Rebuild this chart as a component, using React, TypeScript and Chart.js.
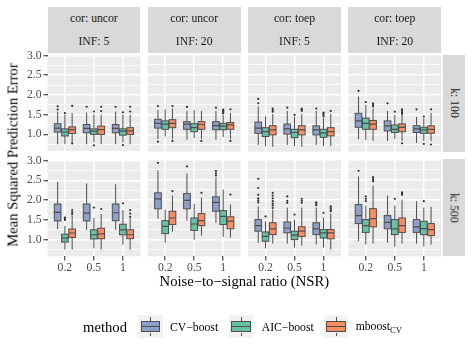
import React, { useEffect, useRef } from 'react';
import { Chart, registerables } from 'chart.js';

Chart.register(...registerables);

type Five = [number, number, number, number, number]; // lower whisker, q1, median, q3, upper whisker

// ---------- labels ----------
const NSR_LABELS = ['0.2', '0.5', '1'];
const NSR_POS = [1, 2, 3];
const METHOD_LABELS = ['CV−boost', 'AIC−boost', 'mboost'];
const METHOD_SUB = ['', '', 'CV'];
const METHOD_COLORS = ['#8DA0CB', '#66C2A5', '#FC8D62'];
const COR_LABELS = ['cor: uncor', 'cor: uncor', 'cor: toep', 'cor: toep'];
const INF_LABELS = ['INF: 5', 'INF: 20', 'INF: 5', 'INF: 20'];
const K_LABELS = ['k: 100', 'k: 500'];
const Y_TICKS = [0.75, 1, 1.25, 1.5, 1.75, 2, 2.25, 2.5, 2.75, 3];
const Y_MAJOR = [1, 1.5, 2, 2.5, 3];
const Y_RANGE = [0.5795, 3.0105];
const X_RANGE = [0.4, 3.6];

// ---------- data: k = 100 ----------
// uncor, INF 5
const u5k100_cv: Five[] = [[0.75, 1.06, 1.16, 1.27, 1.58], [0.75, 1.04, 1.15, 1.25, 1.55], [0.75, 1.04, 1.15, 1.25, 1.58]];
const u5k100_aic: Five[] = [[0.75, 0.96, 1.06, 1.14, 1.5], [0.8, 1.0, 1.08, 1.14, 1.5], [0.8, 0.98, 1.08, 1.14, 1.5]];
const u5k100_mb: Five[] = [[0.8, 1.02, 1.12, 1.19, 1.54], [0.75, 1.0, 1.12, 1.21, 1.5], [0.75, 1.0, 1.09, 1.17, 1.5]];
const u5k100_cv_out = [[1.63, 1.71], [1.7], [1.7]];
const u5k100_aic_out = [[1.54], [1.58, 0.72], [1.56, 0.73]];
const u5k100_mb_out = [[1.72, 0.77], [1.7, 1.59], [1.7, 1.58]];
// uncor, INF 20
const u20k100_cv: Five[] = [[0.9, 1.17, 1.29, 1.39, 1.62], [0.88, 1.14, 1.27, 1.33, 1.6], [0.88, 1.13, 1.23, 1.33, 1.6]];
const u20k100_aic: Five[] = [[0.96, 1.14, 1.27, 1.35, 1.64], [0.92, 1.08, 1.18, 1.28, 1.62], [0.95, 1.13, 1.22, 1.29, 1.5]];
const u20k100_mb: Five[] = [[0.9, 1.18, 1.29, 1.38, 1.66], [0.9, 1.14, 1.26, 1.33, 1.6], [0.9, 1.14, 1.25, 1.31, 1.55]];
const u20k100_cv_out = [[1.72, 0.83], [1.7], [1.68]];
const u20k100_aic_out = [[], [], [1.54, 1.57, 1.6, 1.63]];
const u20k100_mb_out = [[1.72, 0.85], [0.85], [1.64, 0.85]];
// toep, INF 5
const t5k100_cv: Five[] = [[0.75, 1.04, 1.17, 1.32, 1.71], [0.75, 1.02, 1.15, 1.27, 1.6], [0.75, 1.0, 1.125, 1.225, 1.6]];
const t5k100_aic: Five[] = [[0.71, 0.96, 1.08, 1.18, 1.46], [0.72, 0.93, 1.06, 1.14, 1.45], [0.72, 0.94, 1.05, 1.14, 1.42]];
const t5k100_mb: Five[] = [[0.7, 1.0, 1.125, 1.23, 1.52], [0.7, 1.0, 1.125, 1.23, 1.52], [0.72, 0.975, 1.08, 1.18, 1.52]];
const t5k100_cv_out = [[1.79, 1.9], [1.68], [1.66]];
const t5k100_aic_out = [[], [1.5], [1.46, 1.5, 1.53, 1.56]];
const t5k100_mb_out = [[1.58, 1.62, 1.66], [1.6, 1.63, 1.66], [1.6]];
// toep, INF 20
const t20k100_cv: Five[] = [[0.89, 1.19, 1.35, 1.54, 1.96], [0.85, 1.1, 1.225, 1.35, 1.6], [0.8, 1.06, 1.15, 1.23, 1.45]];
const t20k100_aic: Five[] = [[0.875, 1.14, 1.29, 1.42, 1.75], [0.9, 1.06, 1.14, 1.25, 1.5], [0.85, 1.04, 1.125, 1.19, 1.42]];
const t20k100_mb: Five[] = [[0.85, 1.14, 1.27, 1.36, 1.66], [0.85, 1.08, 1.19, 1.275, 1.5], [0.85, 1.04, 1.14, 1.225, 1.55]];
const t20k100_cv_out = [[2.1], [1.79], [1.64]];
const t20k100_aic_out = [[1.82], [1.58], [1.46, 0.775]];
const t20k100_mb_out = [[1.71, 1.75, 1.79], [1.52, 1.56, 1.6, 1.64, 0.79], [1.64, 0.76]];

// ---------- data: k = 500 ----------
const u5k500_cv: Five[] = [[1.27, 1.475, 1.69, 1.9, 2.46], [1.25, 1.475, 1.67, 1.9, 2.42], [1.25, 1.48, 1.68, 1.9, 2.4]];
const u5k500_aic: Five[] = [[0.75, 0.94, 1.04, 1.14, 1.35], [0.78, 1.02, 1.125, 1.25, 1.55], [0.875, 1.125, 1.25, 1.39, 1.75]];
const u5k500_mb: Five[] = [[0.75, 1.06, 1.17, 1.27, 1.6], [0.75, 1.025, 1.15, 1.29, 1.65], [0.75, 1.025, 1.125, 1.25, 1.55]];
const u5k500_cv_out = [[], [], []];
const u5k500_aic_out = [[1.5, 1.53, 1.56], [1.81], [1.92]];
const u5k500_mb_out = [[1.64, 1.69, 1.75], [1.775], [1.58, 1.66, 1.75]];

const u20k500_cv: Five[] = [[1.52, 1.77, 2.02, 2.17, 2.73], [1.475, 1.77, 1.98, 2.15, 2.65], [1.42, 1.71, 1.93, 2.07, 2.55]];
const u20k500_aic: Five[] = [[0.92, 1.15, 1.33, 1.475, 1.75], [1.0, 1.23, 1.39, 1.54, 1.89], [1.07, 1.375, 1.58, 1.725, 2.25]];
const u20k500_mb: Five[] = [[1.2, 1.375, 1.54, 1.71, 2.1], [1.1, 1.35, 1.475, 1.65, 2.05], [1.05, 1.27, 1.46, 1.57, 1.88]];
const u20k500_cv_out = [[2.92], [2.83], [2.6, 2.65, 2.71]];
const u20k500_aic_out = [[], [], []];
const u20k500_mb_out = [[2.21], [2.17], [2.125]];

const t5k500_cv: Five[] = [[0.92, 1.21, 1.35, 1.5, 1.83], [0.9, 1.17, 1.29, 1.44, 1.8], [0.88, 1.125, 1.27, 1.42, 1.8]];
const t5k500_aic: Five[] = [[0.78, 0.96, 1.08, 1.19, 1.45], [0.8, 1.0, 1.11, 1.21, 1.5], [0.8, 1.04, 1.17, 1.25, 1.55]];
const t5k500_mb: Five[] = [[0.9, 1.125, 1.27, 1.42, 1.75], [0.85, 1.08, 1.21, 1.32, 1.8], [0.75, 1.02, 1.17, 1.25, 1.65]];
const t5k500_cv_out = [[1.93, 1.98, 2.03, 2.12, 2.29, 2.52], [1.92, 1.97, 2.08], [1.86, 1.9, 1.93]];
const t5k500_aic_out = [[1.58], [1.625], [1.67]];
const t5k500_mb_out = [[1.79, 1.85, 1.9, 1.96, 2.03, 2.1, 2.17], [1.92, 1.97, 2.02], [1.71, 1.75, 1.79, 1.83]];

const t20k500_cv: Five[] = [[0.96, 1.4, 1.6, 1.875, 2.58], [0.92, 1.27, 1.43, 1.6, 2.1], [0.9, 1.18, 1.32, 1.5, 1.96]];
const t20k500_aic: Five[] = [[0.875, 1.18, 1.35, 1.5, 1.85], [0.82, 1.125, 1.27, 1.5, 1.85], [0.83, 1.125, 1.275, 1.46, 1.8]];
const t20k500_mb: Five[] = [[0.9, 1.32, 1.525, 1.775, 2.35], [0.9, 1.18, 1.35, 1.54, 2.0], [0.875, 1.1, 1.25, 1.4, 1.82]];
const t20k500_cv_out = [[2.72], [], []];
const t20k500_aic_out = [[1.96, 2.02, 2.08], [2.02], [1.96]];
const t20k500_mb_out = [[2.46, 2.51, 2.56], [2.12, 2.15, 2.18], []];

// panel lookup [row][col] -> per method
const BOXES: Five[][][][] = [
  [[u5k100_cv, u5k100_aic, u5k100_mb], [u20k100_cv, u20k100_aic, u20k100_mb], [t5k100_cv, t5k100_aic, t5k100_mb], [t20k100_cv, t20k100_aic, t20k100_mb]],
  [[u5k500_cv, u5k500_aic, u5k500_mb], [u20k500_cv, u20k500_aic, u20k500_mb], [t5k500_cv, t5k500_aic, t5k500_mb], [t20k500_cv, t20k500_aic, t20k500_mb]],
];
const OUTLIERS: number[][][][][] = [
  [[u5k100_cv_out, u5k100_aic_out, u5k100_mb_out], [u20k100_cv_out, u20k100_aic_out, u20k100_mb_out], [t5k100_cv_out, t5k100_aic_out, t5k100_mb_out], [t20k100_cv_out, t20k100_aic_out, t20k100_mb_out]],
  [[u5k500_cv_out, u5k500_aic_out, u5k500_mb_out], [u20k500_cv_out, u20k500_aic_out, u20k500_mb_out], [t5k500_cv_out, t5k500_aic_out, t5k500_mb_out], [t20k500_cv_out, t20k500_aic_out, t20k500_mb_out]],
] as any;

// ---------- layout ----------
const PANEL_L = [47.5, 147.8, 248.1, 348.4];
const PANEL_W = 92.8;
const PANEL_T = [54.5, 159.2];
const PANEL_H = 97.2;
const DODGE = [-0.25, 0, 0.25];
const HALF_BOX = 0.115;
const FONT = "'Liberation Serif', 'DejaVu Serif', serif";
const OUTLINE = '#4D4D4D';

Chart.defaults.font.family = FONT;

function makeBoxPlugin(boxes: Five[][]) {
  return {
    id: 'panelBoxes',
    beforeDraw(chart: any) {
      const { ctx, chartArea: a } = chart;
      ctx.save();
      ctx.fillStyle = '#EBEBEB';
      ctx.fillRect(a.left, a.top, a.right - a.left, a.bottom - a.top);
      ctx.restore();
    },
    beforeDatasetsDraw(chart: any) {
      const { ctx, chartArea: a } = chart;
      const xs = chart.scales.x;
      const ys = chart.scales.y;
      ctx.save();
      ctx.beginPath();
      ctx.rect(a.left, a.top, a.right - a.left, a.bottom - a.top);
      ctx.clip();
      boxes.forEach((series, mi) => {
        series.forEach((b, ci) => {
          const cx = NSR_POS[ci] + DODGE[mi];
          const xl = xs.getPixelForValue(cx - HALF_BOX);
          const xr = xs.getPixelForValue(cx + HALF_BOX);
          const xc = xs.getPixelForValue(cx);
          const [lo, q1, med, q3, hi] = b.map((v) => ys.getPixelForValue(v));
          ctx.strokeStyle = OUTLINE;
          ctx.lineWidth = 1;
          ctx.beginPath();
          ctx.moveTo(xc, lo);
          ctx.lineTo(xc, q1);
          ctx.moveTo(xc, q3);
          ctx.lineTo(xc, hi);
          ctx.stroke();
          ctx.fillStyle = METHOD_COLORS[mi];
          ctx.fillRect(xl, q3, xr - xl, q1 - q3);
          ctx.strokeRect(xl, q3, xr - xl, q1 - q3);
          ctx.lineWidth = 1.2;
          ctx.beginPath();
          ctx.moveTo(xl, med);
          ctx.lineTo(xr, med);
          ctx.stroke();
        });
      });
      ctx.restore();
    },
  };
}

function Panel({ r, c }: { r: number; c: number }) {
  const ref = useRef<HTMLCanvasElement>(null);
  const L = PANEL_L[c];
  const T = PANEL_T[r];
  const left = c === 0;
  const bottom = r === 1;
  const xH = bottom ? 22 : 0;
  const cl = left ? 0 : Math.floor(L) - 8;
  const ct = Math.floor(T) - 8;
  const cr = Math.ceil(L + PANEL_W) + 8;
  const cb = Math.ceil(T + PANEL_H + xH) + 8;
  const padL = left ? 0 : L - cl;
  const padT = T - ct;
  const padR = cr - (L + PANEL_W);
  const padB = cb - (T + PANEL_H + xH);

  useEffect(() => {
    const boxes = BOXES[r][c];
    const outs = OUTLIERS[r][c];
    const datasets = METHOD_LABELS.map((m, mi) => ({
      label: m,
      data: outs[mi].flatMap((vals: number[], ci: number) => vals.map((v) => ({ x: NSR_POS[ci] + DODGE[mi], y: v }))),
      pointRadius: 1.1,
      pointBackgroundColor: '#333333',
      pointBorderWidth: 0,
      showLine: false,
    }));
    const tickFont = { family: FONT, size: 11.7 };
    const chart = new Chart(ref.current as HTMLCanvasElement, {
      type: 'scatter',
      data: { datasets },
      options: {
        animation: false,
        responsive: false,
        devicePixelRatio: 1,
        events: [],
        layout: { padding: { left: padL, top: padT, right: padR, bottom: padB } },
        plugins: { legend: { display: false }, tooltip: { enabled: false } },
        scales: {
          x: {
            type: 'linear',
            min: X_RANGE[0],
            max: X_RANGE[1],
            afterBuildTicks: (s: any) => {
              s.ticks = NSR_POS.map((v) => ({ value: v }));
            },
            afterFit: (s: any) => {
              s.height = xH;
            },
            ticks: {
              display: bottom,
              autoSkip: false,
              maxRotation: 0,
              padding: 1,
              font: tickFont,
              color: '#4D4D4D',
              callback: (v: any) => NSR_LABELS[NSR_POS.indexOf(Number(v))] ?? '',
            },
            grid: {
              color: '#FFFFFF',
              lineWidth: 1.5,
              drawTicks: bottom,
              tickLength: 4,
              tickColor: '#333333',
              tickWidth: 1.1,
            },
            border: { display: false },
          },
          y: {
            type: 'linear',
            min: Y_RANGE[0],
            max: Y_RANGE[1],
            afterBuildTicks: (s: any) => {
              s.ticks = Y_TICKS.map((v) => ({ value: v }));
            },
            afterFit: (s: any) => {
              s.width = left ? L : 0;
            },
            ticks: {
              display: left,
              autoSkip: false,
              padding: 2,
              font: tickFont,
              color: '#4D4D4D',
              callback: (v: any) => (Y_MAJOR.includes(Number(v)) ? Number(v).toFixed(1) : ''),
            },
            grid: {
              color: '#FFFFFF',
              lineWidth: (ctx: any) => (Y_MAJOR.includes(ctx.tick?.value) ? 1.5 : 0.8),
              drawTicks: left,
              tickLength: 4,
              tickColor: (ctx: any) => (Y_MAJOR.includes(ctx.tick?.value) ? '#333333' : 'rgba(0,0,0,0)'),
              tickWidth: 1.1,
            },
            border: { display: false },
          },
        },
      },
      plugins: [makeBoxPlugin(boxes)],
    } as any);
    return () => chart.destroy();
  }, []);

  return (
    <canvas
      ref={ref}
      width={cr - cl}
      height={cb - ct}
      style={{ position: 'absolute', left: cl, top: ct, width: cr - cl, height: cb - ct }}
    />
  );
}

function LegendKey({ color }: { color: string }) {
  return (
    <div style={{ position: 'relative', width: 24.4, height: 23.3, background: '#F2F2F2' }}>
      <div style={{ position: 'absolute', left: 11.7, width: 1, top: 2.3, height: 3.5, background: OUTLINE }} />
      <div style={{ position: 'absolute', left: 11.7, width: 1, top: 17.5, height: 3.5, background: OUTLINE }} />
      <div
        style={{
          position: 'absolute',
          left: 2.4,
          width: 19.6,
          top: 5.8,
          height: 11.7,
          boxSizing: 'border-box',
          border: `1px solid ${OUTLINE}`,
          background: color,
        }}
      />
      <div style={{ position: 'absolute', left: 2.4, width: 19.6, top: 11.2, height: 1.2, background: OUTLINE }} />
    </div>
  );
}

const LEGEND_KEY_X = [138.3, 229, 324];
const LEGEND_TEXT_X = [170, 261.7, 355.7];

export default function App() {
  const cells: React.ReactNode[] = [];
  for (let r = 0; r < 2; r++) for (let c = 0; c < 4; c++) cells.push(<Panel key={`${r}-${c}`} r={r} c={c} />);

  return (
    <div
      style={{
        position: 'fixed',
        left: 0,
        top: 0,
        width: 472,
        height: 354,
        background: '#FFFFFF',
        overflow: 'hidden',
        fontFamily: FONT,
      }}
    >
      {cells}
      {/* top strips */}
      {COR_LABELS.map((cor, c) => (
        <div
          key={`ts${c}`}
          style={{
            position: 'absolute',
            left: PANEL_L[c],
            width: PANEL_W,
            top: 7.3,
            height: 46,
            background: '#D9D9D9',
            color: '#1A1A1A',
            fontSize: 11.7,
          }}
        >
          <div style={{ height: 23, lineHeight: '23px', textAlign: 'center' }}>{cor}</div>
          <div style={{ height: 23, lineHeight: '23px', textAlign: 'center' }}>{INF_LABELS[c]}</div>
        </div>
      ))}
      {/* right strips */}
      {K_LABELS.map((k, r) => (
        <div
          key={`rs${r}`}
          style={{
            position: 'absolute',
            left: 442.5,
            width: 22.2,
            top: PANEL_T[r],
            height: PANEL_H,
            background: '#D9D9D9',
            color: '#1A1A1A',
            fontSize: 11.7,
          }}
        >
          <div
            style={{
              position: 'absolute',
              left: '50%',
              top: '50%',
              transform: 'translate(-50%, -50%) rotate(90deg)',
              whiteSpace: 'nowrap',
            }}
          >
            {k}
          </div>
        </div>
      ))}
      {/* y title */}
      <div
        style={{
          position: 'absolute',
          left: 12.5,
          top: 155.45,
          transform: 'translate(-50%, -50%) rotate(-90deg)',
          whiteSpace: 'nowrap',
          fontSize: 14.67,
          color: '#000',
        }}
      >
        Mean Squared Prediction Error
      </div>
      {/* x title */}
      <div
        style={{
          position: 'absolute',
          left: 244.35,
          top: 281,
          transform: 'translate(-50%, -50%)',
          whiteSpace: 'nowrap',
          fontSize: 14.67,
          color: '#000',
        }}
      >
        Noise−to−signal ratio (NSR)
      </div>
      {/* legend */}
      <div
        style={{
          position: 'absolute',
          left: 83,
          top: 327,
          transform: 'translateY(-50%)',
          fontSize: 14.67,
          whiteSpace: 'nowrap',
          color: '#000',
        }}
      >
        method
      </div>
      {METHOD_COLORS.map((col, i) => (
        <div key={`lk${i}`} style={{ position: 'absolute', left: LEGEND_KEY_X[i], top: 315 }}>
          <LegendKey color={col} />
        </div>
      ))}
      {METHOD_LABELS.map((m, i) => (
        <div
          key={`lt${i}`}
          style={{
            position: 'absolute',
            left: LEGEND_TEXT_X[i],
            top: 327,
            transform: 'translateY(-50%)',
            fontSize: 11.7,
            whiteSpace: 'nowrap',
            color: '#000',
          }}
        >
          {m}
          {METHOD_SUB[i] ? <sub style={{ fontSize: 8.5, verticalAlign: '-3px' }}>{METHOD_SUB[i]}</sub> : null}
        </div>
      ))}
    </div>
  );
}
